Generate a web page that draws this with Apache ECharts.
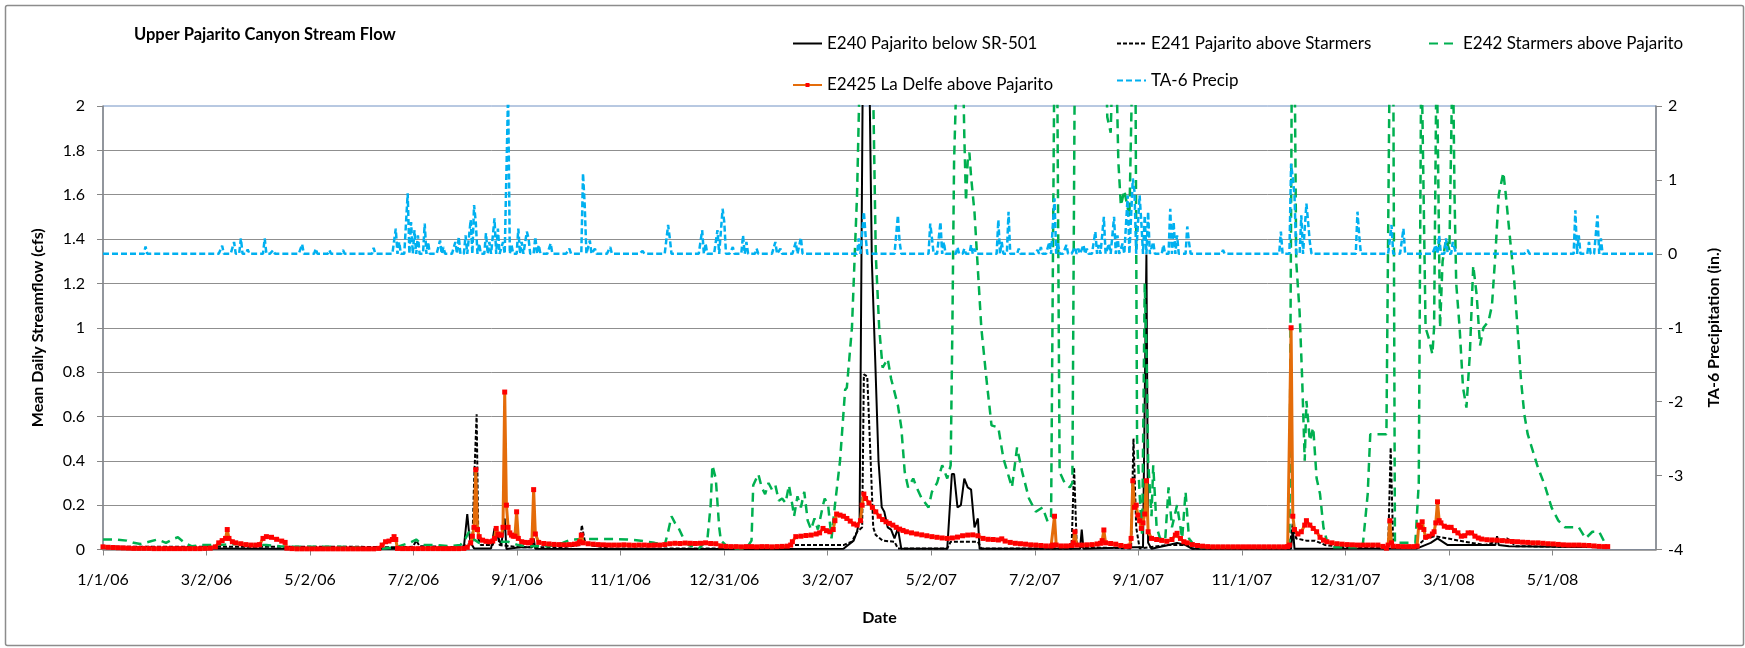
<!DOCTYPE html>
<html>
<head>
<meta charset="utf-8">
<script src="https://cdn.jsdelivr.net/npm/echarts@6/dist/echarts.min.js"></script>
<style>
  html, body { margin: 0; padding: 0; background: #fff; }
  #chart { width: 1745px; height: 648px; }
</style>
</head>
<body>
<div id="chart"></div>
<script>
// Days are counted from 1/1/06 (day 0).
const seriesNames = [
  'E240 Pajarito below SR-501',
  'E241 Pajarito above Starmers',
  'E242 Starmers above Pajarito',
  'E2425 La Delfe above Pajarito',
  'TA-6 Precip'
];

// E240 Pajarito below SR-501, mean daily flow (cfs): [day, value]
const e240 = [
  [0,0.008],[20,0.005],[60,0.004],[100,0.003],[170,0.003],[205,0.003],[212,0.01],[214,0.16],[215,0.08],
  [216,0.03],[218,0.005],[228,0.005],[230,0.095],[231,0.09],[234,0.02],[236,0.14],[237,0.002],[245,0.01],
  [252,0.01],[253,0.05],[254,0.003],[300,0.002],[400,0.002],[435,0.003],[441,0.04],[443,0.08],[444.5,0.14],
  [446.5,2.3],[450,2.3],[451.7,1.3],[453.6,0.87],[455.6,0.4],[457.5,0.19],[459,0.17],[461,0.1],[463,0.09],
  [465,0.05],[467,0.095],[469,0.003],[496,0.003],[498.7,0.34],[500,0.34],[502,0.19],[504,0.2],[506,0.32],
  [508,0.28],[510,0.27],[512,0.1],[514,0.14],[515,0.003],[574,0.003],[575,0.09],[576,0.003],[606,0.01],
  [611,0.01],[613,1.33],[614,0.03],[616,0.003],[626,0.02],[631,0.03],[636,0.02],[640,0.003],[698,0.003],
  [699,0.1],[700,0.003],[772,0.005],[780,0.03],[784,0.05],[790,0.02],[818,0.02],[819,0.06],[820,0.02],
  [826,0.015],[884,0.01]
];

// E241 Pajarito above Starmers
const e241 = [
  [0,0.013],[50,0.012],[100,0.012],[150,0.012],[170,0.01],[182,0.012],[184,0.04],[186,0.015],[210,0.01],
  [217,0.03],[218,0.3],[219.5,0.61],[220.5,0.05],[222,0.02],[229,0.02],[231,0.1],[233,0.02],[245,0.01],
  [270,0.01],[280,0.02],[281.3,0.11],[283,0.04],[286,0.02],[298,0.005],[400,0.005],[405,0.02],[435,0.02],
  [440,0.035],[443,0.08],[446,0.1],[447,0.79],[449,0.78],[451,0.4],[452.5,0.1],[454,0.065],[458,0.04],
  [465,0.035],[467,0.005],[496,0.005],[498,0.035],[514,0.035],[516,0.005],[569,0.005],[570.5,0.37],
  [572,0.03],[575,0.01],[604,0.005],[605.4,0.5],[607,0.1],[609,0.005],[625,0.02],[630,0.02],[637,0.02],
  [640,0.005],[697,0.005],[699,0.12],[701,0.05],[707,0.04],[712,0.04],[718,0.02],[730,0.01],[755,0.005],
  [756.5,0.46],[758,0.015],[772,0.015],[777,0.05],[782.6,0.06],[790,0.05],[800,0.035],[812,0.02],
  [818,0.035],[825,0.05],[830,0.015],[884,0.01]
];

// E242 Starmers above Pajarito
const e242 = [
  [0,0.045],[8,0.045],[14,0.04],[18,0.03],[22,0.025],[27,0.035],[32,0.045],[37,0.03],[42,0.05],[44,0.055],
  [48,0.03],[52,0.015],[58,0.02],[64,0.02],[72,0.022],[80,0.025],[88,0.02],[96,0.02],[104,0.015],[112,0.012],
  [124,0.012],[136,0.013],[148,0.01],[156,0.005],[165,0.005],[172,0.01],[180,0.03],[184,0.045],[188,0.02],
  [196,0.02],[204,0.015],[210,0.02],[213,0.05],[215,0.08],[217,0.05],[221,0.03],[230,0.035],[238,0.035],
  [244,0.02],[250,0.015],[262,0.015],[270,0.03],[275,0.045],[282,0.047],[292,0.047],[300,0.047],[308,0.045],
  [316,0.04],[324,0.03],[330,0.02],[332,0.08],[334,0.15],[336,0.12],[338,0.1],[341,0.05],[344,0.02],
  [350,0.005],[355,0.04],[357,0.2],[358,0.38],[360,0.32],[362,0.1],[363,0.04],[368,0.005],[378,0.005],
  [381,0.04],[382,0.29],[385,0.34],[387,0.28],[389,0.25],[391,0.3],[393,0.27],[395,0.29],[397,0.22],
  [399,0.23],[401,0.21],[403,0.29],[405,0.2],[406,0.15],[408,0.24],[410,0.19],[412,0.26],[414,0.13],
  [416,0.09],[418,0.14],[420,0.09],[423,0.2],[424,0.23],[426,0.2],[428,0.05],[430,0.2],[433,0.4],
  [436,0.72],[437,0.73],[440,1.0],[443,1.6],[445,2.3],[452,2.3],[454,1.33],[456,1.0],[458,0.82],[461,0.86],
  [463,0.77],[467,0.65],[469,0.55],[471,0.35],[473,0.28],[476,0.32],[478,0.28],[481,0.23],[485,0.19],
  [487,0.26],[490,0.3],[493,0.38],[496,0.32],[498,0.38],[499,1.0],[500,1.75],[502,2.3],[505,2.3],
  [506,1.87],[507,1.57],[508,1.75],[509,1.79],[510,1.68],[512,1.52],[516,1.0],[519,0.77],[522,0.56],
  [526,0.55],[529,0.41],[534,0.28],[537,0.46],[540,0.35],[544,0.23],[548,0.17],[552,0.19],[555,0.125],
  [557,0.15],[559,2.3],[560.5,2.3],[562,0.35],[565,0.3],[568,0.28],[569.5,0.3],[571,2.3],[589,2.3],
  [590,1.95],[592,1.88],[593.5,2.3],[595,2.3],[596.5,1.75],[598,1.55],[600,1.62],[603,1.5],[605,2.3],
  [606.5,2.3],[607.5,0.5],[609,0.25],[610.5,0.06],[612,1.2],[613,0.9],[614,0.4],[616,0.15],[617,0.38],
  [619,0.1],[621,0.05],[624,0.04],[626,0.28],[628,0.1],[631,0.2],[634,0.05],[636,0.26],[638,0.05],
  [642,0.01],[660,0.01],[680,0.01],[697,0.01],[698.5,2.3],[700,2.3],[701,1.3],[703,1.07],[704.5,0.77],
  [706,0.4],[707,0.67],[709,0.49],[711,0.55],[713,0.32],[715,0.25],[717,0.1],[719,0.04],[722,0.01],
  [740,0.01],[743,0.25],[744.5,0.52],[754,0.52],[756,2.3],[758,2.3],[759,0.03],[771,0.03],[773,0.3],
  [774.5,2.3],[775.5,2.3],[777,1.0],[779,0.95],[781,0.88],[782,1.0],[783.5,2.3],[784.5,2.3],[785.5,1.0],
  [787,1.3],[789,1.4],[791,1.35],[793,2.3],[794,1.6],[795,1.2],[797,1.0],[799,0.73],[801,0.64],[803,0.88],
  [805,1.28],[807,1.15],[809,0.92],[811,1.0],[814,1.03],[816,1.1],[818,1.33],[820,1.6],[822.7,1.7],
  [824,1.61],[826,1.45],[829,1.22],[831,1.0],[833,0.77],[835,0.61],[837,0.52],[839,0.47],[843,0.37],
  [847,0.29],[851,0.19],[855,0.13],[859,0.1],[867,0.1],[871,0.05],[875,0.08],[879,0.08],[882,0.035]
];

// E2425 La Delfe above Pajarito
const e2425 = [
  [0,0.012],[3,0.01],[6,0.009],[9,0.008],[12,0.007],[15,0.006],[18,0.005],[21,0.005],[24,0.005],[27,0.005],
  [30,0.004],[33,0.004],[36,0.004],[39,0.004],[42,0.004],[45,0.004],[48,0.004],[51,0.004],[54,0.004],
  [57,0.004],[60,0.005],[63,0.006],[66,0.012],[68,0.03],[70,0.04],[72,0.05],[73,0.09],[74,0.05],[76,0.035],
  [78,0.03],[81,0.026],[84,0.022],[87,0.02],[90,0.02],[92,0.022],[94,0.05],[96,0.058],[99,0.055],
  [102,0.046],[105,0.038],[107,0.032],[108,0.006],[111,0.004],[114,0.003],[117,0.003],[120,0.003],
  [123,0.003],[126,0.003],[129,0.003],[132,0.003],[135,0.003],[138,0.003],[141,0.003],[144,0.003],
  [147,0.003],[150,0.003],[153,0.003],[156,0.003],[159,0.003],[162,0.005],[164,0.02],[166,0.035],
  [168,0.038],[170,0.045],[171,0.058],[172,0.045],[173,0.005],[176,0.004],[179,0.004],[182,0.004],
  [185,0.004],[188,0.004],[191,0.004],[194,0.004],[197,0.004],[200,0.004],[203,0.004],[206,0.004],
  [209,0.004],[212,0.005],[214,0.01],[216,0.03],[217,0.06],[218,0.1],[219,0.36],[220,0.09],[221,0.058],
  [223,0.042],[225,0.037],[227,0.035],[229,0.038],[230,0.05],[231,0.095],[232,0.07],[233,0.065],
  [234,0.065],[235,0.1],[236,0.71],[237,0.2],[238,0.1],[239,0.075],[240,0.065],[241,0.06],[242,0.06],
  [243,0.17],[244,0.05],[246,0.035],[248,0.032],[250,0.03],[251,0.032],[252,0.04],[253,0.27],[254,0.07],
  [256,0.032],[259,0.027],[262,0.025],[265,0.023],[268,0.022],[271,0.021],[274,0.022],[277,0.024],
  [279,0.026],[280,0.035],[281,0.065],[282,0.03],[285,0.026],[288,0.024],[291,0.022],[294,0.021],
  [297,0.02],[300,0.02],[303,0.02],[306,0.021],[309,0.02],[312,0.019],[315,0.02],[318,0.02],[321,0.019],
  [324,0.02],[327,0.02],[330,0.022],[333,0.026],[336,0.028],[339,0.027],[342,0.029],[345,0.028],
  [348,0.027],[351,0.028],[354,0.03],[357,0.027],[360,0.026],[363,0.016],[366,0.014],[369,0.013],
  [372,0.013],[375,0.012],[378,0.013],[381,0.013],[384,0.012],[387,0.013],[390,0.013],[393,0.012],
  [396,0.013],[399,0.014],[402,0.015],[404,0.02],[405,0.035],[407,0.058],[410,0.06],[413,0.063],
  [416,0.065],[419,0.07],[421,0.075],[423,0.095],[425,0.085],[427,0.08],[429,0.09],[430,0.13],
  [431,0.16],[433,0.155],[435,0.15],[437,0.14],[439,0.128],[441,0.115],[443,0.11],[445,0.13],[446,0.2],
  [447,0.25],[448,0.23],[450,0.21],[452,0.19],[454,0.17],[456,0.15],[458,0.135],[460,0.125],[462,0.118],
  [464,0.11],[466,0.1],[468,0.092],[470,0.086],[472,0.08],[475,0.075],[478,0.07],[481,0.066],[484,0.062],
  [487,0.058],[490,0.055],[493,0.052],[496,0.05],[499,0.052],[502,0.056],[505,0.062],[508,0.065],
  [511,0.066],[514,0.062],[517,0.05],[520,0.046],[523,0.045],[526,0.043],[528,0.048],[530,0.038],
  [533,0.032],[536,0.028],[539,0.026],[542,0.024],[545,0.021],[548,0.02],[551,0.018],[554,0.016],
  [557,0.016],[558,0.02],[559,0.15],[560,0.02],[563,0.016],[566,0.016],[569,0.018],[570,0.03],[571,0.08],
  [572,0.02],[575,0.02],[578,0.021],[581,0.022],[584,0.025],[586,0.028],[587,0.04],[588,0.088],[589,0.03],
  [592,0.027],[595,0.024],[598,0.018],[601,0.014],[603,0.015],[604,0.05],[605,0.31],[606,0.19],[607,0.2],
  [608,0.155],[609,0.13],[610,0.095],[611,0.12],[612,0.16],[613,0.31],[614,0.08],[616,0.05],[619,0.045],
  [622,0.041],[625,0.037],[628,0.045],[630,0.065],[631,0.073],[633,0.05],[635,0.035],[637,0.03],
  [640,0.022],[643,0.018],[646,0.015],[649,0.013],[652,0.012],[655,0.012],[658,0.012],[661,0.012],
  [664,0.012],[667,0.012],[670,0.012],[673,0.012],[676,0.012],[679,0.012],[682,0.012],[685,0.012],
  [688,0.012],[691,0.012],[694,0.012],[696,0.013],[697,0.02],[698,1.0],[699,0.15],[700,0.09],[702,0.07],
  [704,0.08],[706,0.11],[707,0.13],[709,0.11],[711,0.095],[713,0.08],[715,0.055],[717,0.042],[719,0.035],
  [722,0.03],[725,0.026],[728,0.024],[731,0.022],[734,0.021],[737,0.02],[740,0.02],[743,0.02],[746,0.02],
  [749,0.02],[752,0.014],[754,0.006],[755,0.02],[756,0.13],[757,0.03],[758,0.015],[761,0.014],[764,0.013],
  [767,0.013],[770,0.013],[772,0.015],[773,0.11],[774,0.1],[775,0.125],[776,0.09],[777,0.055],[779,0.06],
  [781,0.07],[782,0.08],[783,0.12],[784,0.215],[785,0.13],[786,0.12],[788,0.105],[790,0.1],[792,0.1],
  [794,0.085],[796,0.075],[798,0.06],[800,0.062],[802,0.075],[804,0.075],[806,0.06],[808,0.052],
  [810,0.047],[813,0.044],[816,0.043],[819,0.042],[822,0.04],[825,0.038],[828,0.036],[831,0.035],
  [834,0.033],[837,0.032],[840,0.03],[843,0.03],[846,0.028],[849,0.026],[852,0.025],[855,0.023],
  [858,0.021],[861,0.02],[864,0.02],[867,0.02],[870,0.019],[873,0.018],[876,0.016],[879,0.014],
  [882,0.013],[884,0.013]
];

// TA-6 daily precipitation (in.): wet days and amounts; every other day of the record is 0.
const precipDays = [
  25,70,77,81,85,95,100,117,125,133,141,159,172,174,179,181,183,185,189,191,198,200,207,209,213,216,218,
  219,221,225,227,230,232,235,238,240,244,246,249,250,254,256,263,274,282,283,286,289,298,317,332,333,
  352,354,361,364,365,370,376,378,384,395,398,407,410,444,447,448,467,468,486,487,492,494,502,506,510,
  512,526,528,532,538,549,551,556,559,561,566,571,573,576,578,583,585,588,591,594,596,599,602,605,606,
  609,610,612,614,617,623,627,629,631,637,638,658,692,698,699,700,704,707,708,709,737,738,757,764,783,
  785,789,793,794,837,865,867,873,878,880
];
const precipInches = [
  0.1,0.11,0.16,0.21,0.06,0.21,0.05,0.13,0.07,0.05,0.05,0.08,0.34,0.16,0.82,0.43,0.32,0.25,0.41,0.16,0.18,
  0.09,0.16,0.23,0.25,0.46,0.66,0.43,0.14,0.28,0.16,0.48,0.34,0.16,2.2,0.12,0.34,0.16,0.3,0.21,0.23,0.12,
  0.14,0.07,1.09,0.66,0.18,0.07,0.09,0.04,0.39,0.21,0.32,0.14,0.32,0.61,0.43,0.09,0.25,0.16,0.07,0.16,
  0.07,0.16,0.22,0.21,0.57,0.25,0.52,0.16,0.41,0.21,0.43,0.16,0.09,0.07,0.12,0.07,0.46,0.16,0.57,0.07,
  0.05,0.09,0.16,0.75,0.16,0.12,0.09,0.07,0.12,0.07,0.3,0.12,0.5,0.14,0.5,0.25,0.14,0.79,1.02,0.84,
  0.79,0.43,0.52,0.57,0.16,0.12,0.61,0.43,0.25,0.37,0.16,0.05,0.3,1.22,1.02,0.79,0.52,0.68,0.43,0.16,
  0.57,0.25,0.39,0.34,0.12,0.25,0.21,0.16,0.14,0.05,0.59,0.25,0.16,0.52,0.21
];
const precipLastDay = 912;

// Axis ranges
const flowTicks = { min: 0, max: 2, step: 0.2 };
const precipTicks = { min: -4, max: 2, step: 1 };
const dateStep = 60.825;      // days between date labels
const dateSpan = dateStep * 15;

const START_MS = Date.UTC(2006, 0, 1);
function dayLabel(v) {
  const d = new Date(START_MS + Math.floor(v + 1e-6) * 86400000);
  return (d.getUTCMonth() + 1) + '/' + d.getUTCDate() + '/' + String(d.getUTCFullYear()).slice(2);
}

const rain = new Map(precipDays.map((d, i) => [d, precipInches[i]]));
const precip = [];
for (let d = 0; d <= precipLastDay; d++) precip.push([d, rain.has(d) ? rain.get(d) : 0]);

const FONT = 'Lato, "Open Sans", sans-serif';
const axisGray = '#868686';

const chart = echarts.init(document.getElementById('chart'), null, { renderer: 'canvas' });

// legend entries: plain line keys (marker hidden), except the La Delfe key with its small red square
function legendAt(name, left, top, withMarker) {
  return {
    data: [name], left: left, top: top,
    itemWidth: 29, itemHeight: withMarker ? 5 : 14, padding: 0, selectedMode: false,
    itemStyle: withMarker ? { color: '#ff0000', opacity: 1 } : { opacity: 0 },
    lineStyle: { opacity: 1 },
    textStyle: { fontFamily: FONT, fontSize: 17, color: '#000' }
  };
}

chart.setOption({
  animation: false,
  backgroundColor: '#ffffff',
  title: {
    text: 'Upper Pajarito Canyon Stream Flow',
    left: 134, top: 26, padding: 0,
    textStyle: { fontFamily: FONT, fontSize: 16.5, fontWeight: 'bold', color: '#000' }
  },
  graphic: [{
    type: 'rect', left: 3, top: 3, silent: true,
    shape: { width: 1738, height: 640, r: 2 },
    style: { fill: null, stroke: '#8c8c8c', lineWidth: 1.5 }
  }],
  legend: [
    legendAt(seriesNames[0], 792, 35, false),
    legendAt(seriesNames[1], 1116, 35, false),
    legendAt(seriesNames[2], 1428, 35, false),
    legendAt(seriesNames[3], 792, 76.5, true),
    legendAt(seriesNames[4], 1116, 72, false)
  ],
  grid: {
    left: 103, right: 89, top: 106, bottom: 98.5,
    show: true, borderColor: '#7092c4', borderWidth: 1, backgroundColor: 'transparent'
  },
  xAxis: {
    type: 'value', min: 0, max: dateSpan, interval: dateStep,
    name: 'Date', nameLocation: 'middle', nameGap: 60,
    nameTextStyle: { fontFamily: FONT, fontSize: 16, fontWeight: 'bold', color: '#000' },
    axisLine: { onZero: false, lineStyle: { color: axisGray, width: 1.5 } },
    axisTick: { show: true, length: 6, lineStyle: { color: axisGray } },
    axisLabel: { formatter: dayLabel, margin: 22, showMaxLabel: false,
      fontFamily: FONT, fontSize: 16, color: '#000' },
    splitLine: { show: false }
  },
  yAxis: [{
    type: 'value', position: 'left',
    min: flowTicks.min, max: flowTicks.max, interval: flowTicks.step,
    name: 'Mean Daily Streamflow (cfs)', nameLocation: 'middle', nameGap: 57,
    nameTextStyle: { fontFamily: FONT, fontSize: 16, fontWeight: 'bold', color: '#000' },
    axisLine: { show: true, lineStyle: { color: axisGray, width: 1.5 } },
    axisTick: { show: true, length: 6, lineStyle: { color: axisGray } },
    axisLabel: { margin: 18, fontFamily: FONT, fontSize: 16, color: '#000' },
    splitLine: { show: true, showMaxLine: false, showMinLine: false,
      lineStyle: { color: '#8f8f8f', width: 1 } }
  }, {
    type: 'value', position: 'right',
    min: precipTicks.min, max: precipTicks.max, interval: precipTicks.step,
    name: 'TA-6 Precipitation (in.)', nameLocation: 'middle', nameGap: 50, nameRotate: 90,
    nameTextStyle: { fontFamily: FONT, fontSize: 16, fontWeight: 'bold', color: '#000' },
    axisLine: { show: true, lineStyle: { color: axisGray, width: 1.5 } },
    axisTick: { show: true, length: 6, lineStyle: { color: axisGray } },
    axisLabel: { margin: 12, fontFamily: FONT, fontSize: 16, color: '#000' },
    splitLine: { show: false }
  }],
  series: [{
    name: seriesNames[0], type: 'line', data: e240, yAxisIndex: 0,
    symbol: 'none', showSymbol: false,
    lineStyle: { color: '#000000', width: 2 }, itemStyle: { color: '#000000' }
  }, {
    name: seriesNames[1], type: 'line', data: e241, yAxisIndex: 0,
    symbol: 'none', showSymbol: false,
    lineStyle: { color: '#000000', width: 2, type: [4, 2] }, itemStyle: { color: '#000000' }
  }, {
    name: seriesNames[2], type: 'line', data: e242, yAxisIndex: 0,
    symbol: 'none', showSymbol: false,
    lineStyle: { color: '#00b050', width: 2.5, type: [9, 6] }, itemStyle: { color: '#00b050' }
  }, {
    name: seriesNames[3], type: 'line', data: e2425, yAxisIndex: 0,
    symbol: 'rect', symbolSize: 5, showSymbol: true, showAllSymbol: true,
    lineStyle: { color: '#e46c0a', width: 3 }, itemStyle: { color: '#ff0000' }
  }, {
    name: seriesNames[4], type: 'line', data: precip, yAxisIndex: 1,
    symbol: 'none', showSymbol: false,
    lineStyle: { color: '#00b0f0', width: 2.5, type: [6, 3] }, itemStyle: { color: '#00b0f0' }
  }]
});
</script>
</body>
</html>
